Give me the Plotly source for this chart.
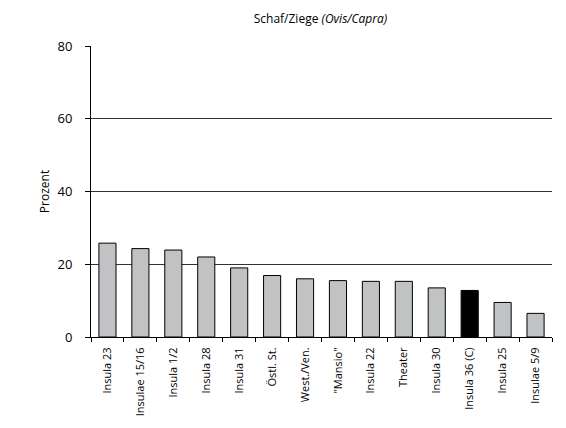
import plotly.graph_objects as go

# Fundorte und Anteile (Prozent) Schaf/Ziege
fundorte = ["Insula 23", "Insulae 15/16", "Insula 1/2", "Insula 28", "Insula 31",
            "Östl. St.", "West./Ven.", "\"Mansio\"", "Insula 22", "Theater",
            "Insula 30", "Insula 36 (C)", "Insula 25", "Insulae 5/9"]
prozent = [25.8, 24.3, 23.9, 22.0, 19.0, 16.9, 16.0, 15.5, 15.3, 15.3,
           13.5, 12.8, 9.5, 6.5]
hervorgehoben = "Insula 36 (C)"

farben = ["#000000" if f == hervorgehoben else "#C0C2C4" for f in fundorte]

fig = go.Figure(go.Bar(
    x=fundorte,
    y=prozent,
    marker=dict(color=farben, line=dict(color="#000000", width=1)),
))

# Seite hat 8px Rand, daher 558x420
fig.update_layout(
    width=558, height=420,
    margin=dict(l=83, r=14, t=38, b=91),
    plot_bgcolor="white", paper_bgcolor="white",
    font=dict(family="Open Sans", size=12, color="#000000"),
    bargap=0.48,
    showlegend=False,
    title=dict(text="Schaf/Ziege <i>(Ovis/Capra)</i>", x=0.56, xanchor="center",
               y=0.974, yanchor="middle", font=dict(size=12)),
    xaxis=dict(
        showline=True, linecolor="#000000", linewidth=1,
        ticks="outside", tickson="boundaries", ticklen=4, tickcolor="#000000",
        tickangle=-90, tickfont=dict(size=11), showgrid=False,
        ticklabelstandoff=5,
    ),
    yaxis=dict(
        range=[0, 80], tickvals=[0, 20, 40, 60, 80],
        showline=True, linecolor="#000000", linewidth=1,
        ticks="outside", ticklen=5, tickcolor="#000000",
        showgrid=True, gridcolor="#333333", gridwidth=1,
        zeroline=False, tickfont=dict(size=13), ticklabelstandoff=10,
        title=dict(text="Prozent", font=dict(size=12), standoff=5),
    ),
)

fig.write_html("out.html")
